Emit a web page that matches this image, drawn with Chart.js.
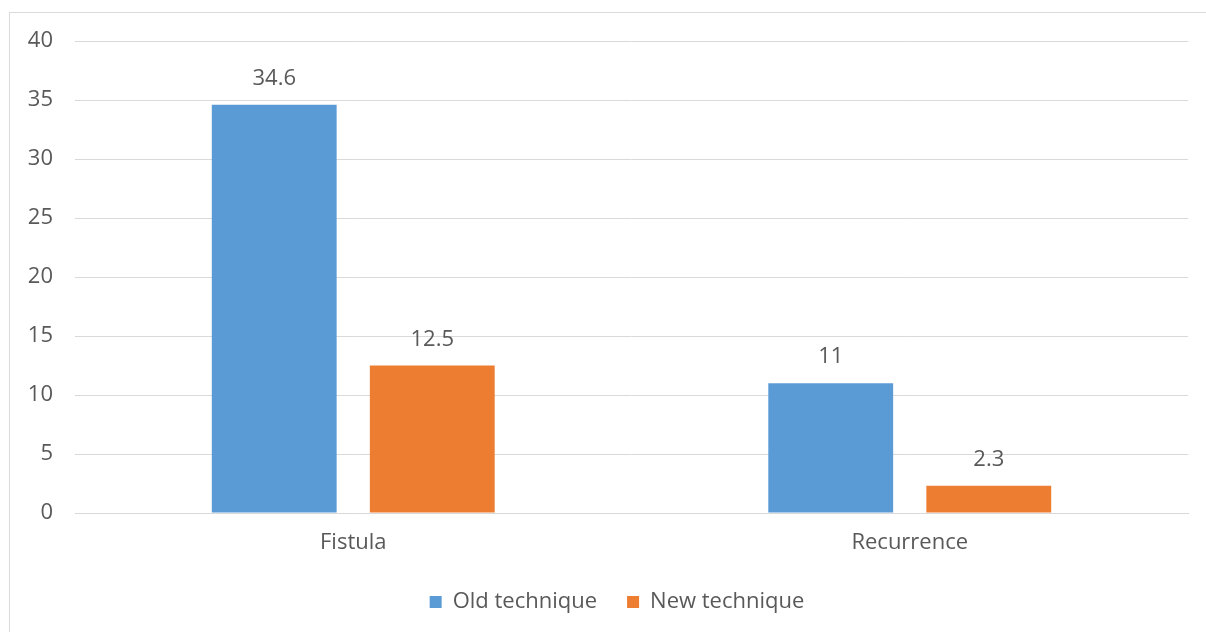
<!DOCTYPE html>
<html>
<head>
<meta charset="utf-8">
<script src="https://cdn.jsdelivr.net/npm/chart.js@4/dist/chart.umd.min.js"></script>
<style>
  html, body { margin: 0; padding: 0; background: #fff; }
  #wrap { position: relative; width: 1206px; height: 632px; }
  #frame { position: absolute; left: 9px; top: 12px; width: 1300px; height: 700px; border: 1px solid #d9d9d9; }
  canvas { position: absolute; left: 0; top: 0; }
</style>
</head>
<body>
<div id="wrap">
  <div id="frame"></div>
  <canvas id="chart" width="1206" height="632"></canvas>
</div>
<script>
const categories = ["Fistula", "Recurrence"];
const oldTechnique = [34.6, 11];
const newTechnique = [12.5, 2.3];
const seriesNames = ["Old technique", "New technique"];

const textColor = "#595959";
const fontFamily = "'Open Sans', 'Noto Sans', sans-serif";
const fontSize = 22;

// draw value labels above each bar
const barValues = {
  id: "barValues",
  afterDatasetsDraw(chart) {
    const ctx = chart.ctx;
    ctx.save();
    ctx.fillStyle = textColor;
    ctx.font = fontSize + "px " + fontFamily;
    ctx.textAlign = "center";
    ctx.textBaseline = "alphabetic";
    chart.data.datasets.forEach((ds, i) => {
      chart.getDatasetMeta(i).data.forEach((bar, j) => {
        ctx.fillText(String(ds.data[j]), bar.x, bar.y - 20);
      });
    });
    ctx.restore();
  }
};

// nudge the legend box to sit where the original one does
const legendShift = {
  id: "legendShift",
  afterLayout(chart) {
    const lg = chart.legend;
    const dx = 23, dy = -9;
    lg.left += dx; lg.right += dx;
    lg.top += dy; lg.bottom += dy;
  }
};

new Chart(document.getElementById("chart"), {
  type: "bar",
  data: {
    labels: categories,
    datasets: [
      { label: seriesNames[0], data: oldTechnique, backgroundColor: "#5b9bd5" },
      { label: seriesNames[1], data: newTechnique, backgroundColor: "#ed7d31" }
    ]
  },
  options: {
    responsive: false,
    animation: false,
    categoryPercentage: 0.568,
    barPercentage: 0.79,
    layout: { padding: { left: 0, top: 41, right: 18, bottom: 0 } },
    plugins: {
      legend: {
        position: "bottom",
        labels: {
          color: textColor,
          font: { size: fontSize, family: fontFamily },
          boxWidth: 12,
          boxHeight: 12,
          padding: 30
        }
      },
      tooltip: { enabled: false }
    },
    scales: {
      x: {
        grid: { display: false },
        border: { color: "#d9d9d9", width: 1 },
        ticks: { color: textColor, font: { size: fontSize, family: fontFamily }, padding: 9 },
        afterFit(scale) { scale.height = 57; }
      },
      y: {
        min: 0,
        max: 40,
        ticks: { stepSize: 5, color: textColor, font: { size: fontSize, family: fontFamily }, padding: 22 },
        grid: { color: "#d9d9d9", drawTicks: false },
        border: { display: false },
        afterFit(scale) { scale.width = 75; }
      }
    }
  },
  plugins: [barValues, legendShift]
});
</script>
</body>
</html>
